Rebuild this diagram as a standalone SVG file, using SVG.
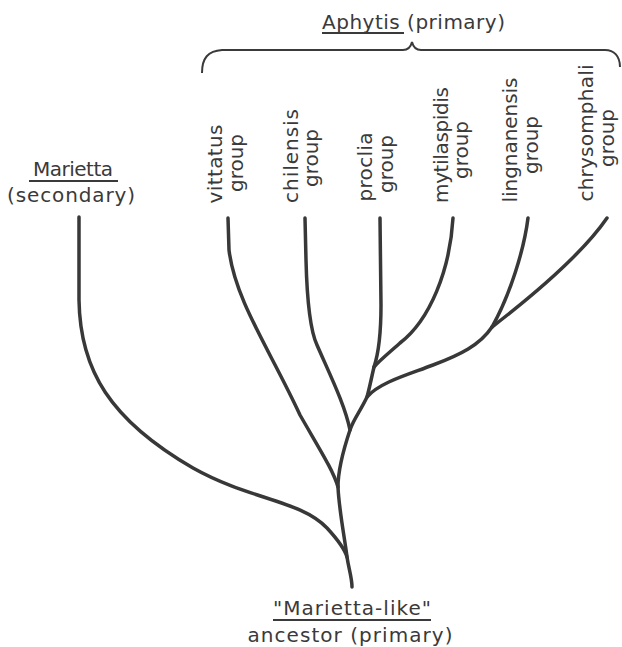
<svg xmlns="http://www.w3.org/2000/svg" width="622" height="647" viewBox="0 0 622 647">
<style>
text{font-family:"DejaVu Sans","Liberation Sans",sans-serif;font-size:20px;fill:#3a3a3a}
.r{text-anchor:middle}
.br{fill:none;stroke:#383838;stroke-width:3.5;stroke-linecap:round;stroke-linejoin:round}
.ul{stroke:#3a3a3a;stroke-width:2}
.brace{fill:none;stroke:#3a3a3a;stroke-width:2}
</style>
<rect width="622" height="647" fill="#fff"/>
<g id="aphytis">
<text x="322" y="29" textLength="183">Aphytis (primary)</text>
<line class="ul" x1="322" y1="33" x2="404" y2="33"/>
<path class="brace" d="M202,73 C202,58 208,51 222,50 L403,50 C408,50 411,46 412,42 C413,46 416,50 421,50 L605,50 C614,50 620,56 620,67"/>
</g>
<g id="marietta">
<text class="r" x="73" y="176" textLength="80">Marietta</text>
<line class="ul" x1="29" y1="181" x2="118" y2="181"/>
<text class="r" x="71" y="202" textLength="128">(secondary)</text>
</g>
<g id="vittatus">
<text class="r" transform="translate(222,164) rotate(-90)" textLength="79">vittatus</text>
<text class="r" transform="translate(243,163) rotate(-90)" textLength="58">group</text>
</g>
<g id="chilensis">
<text class="r" transform="translate(298,156) rotate(-90)" textLength="94">chilensis</text>
<text class="r" transform="translate(318,158) rotate(-90)" textLength="58">group</text>
</g>
<g id="proclia">
<text class="r" transform="translate(372,167) rotate(-90)" textLength="69">proclia</text>
<text class="r" transform="translate(393,164) rotate(-90)" textLength="58">group</text>
</g>
<g id="mytilaspidis">
<text class="r" transform="translate(448,145) rotate(-90)" textLength="116">mytilaspidis</text>
<text class="r" transform="translate(468,150) rotate(-90)" textLength="58">group</text>
</g>
<g id="lingnanensis">
<text class="r" transform="translate(517,140) rotate(-90)" textLength="125">lingnanensis</text>
<text class="r" transform="translate(538,145) rotate(-90)" textLength="58">group</text>
</g>
<g id="chrysomphali">
<text class="r" transform="translate(593,133) rotate(-90)" textLength="137">chrysomphali</text>
<text class="r" transform="translate(614,138) rotate(-90)" textLength="58">group</text>
</g>
<g id="ancestor">
<text class="r" x="352" y="615" textLength="158">"Marietta-like"</text>
<line class="ul" x1="273" y1="620" x2="431" y2="620"/>
<text class="r" x="350" y="642" textLength="205">ancestor (primary)</text>
</g>
<g id="connectors">
<path class="br" d="M380,218 L381,305 C381,335 378,355 374,367 C371,380 369,390 367,397 C361,410 353,420 350,430 C344,448 338,470 338,487 C339,510 345,540 347,557 C349,570 352,578 352,587"/>
<path class="br" d="M79,217 L79,300 C80,370 110,420 193,468 C250,500 300,500 327,528 C338,540 345,550 347,557"/>
<path class="br" d="M228,218 L229,250 C235,300 270,350 300,415 C320,450 333,470 338,487"/>
<path class="br" d="M305,218 L306,260 C307,300 310,330 317,345 C330,375 345,405 350,430"/>
<path class="br" d="M453,218 C450,270 430,320 400,343 C390,352 380,360 374,367"/>
<path class="br" d="M528,218 C524,250 510,295 492,327"/>
<path class="br" d="M607,218 C585,250 540,290 492,327"/>
<path class="br" d="M492,327 C480,345 460,355 433,365 C410,374 380,382 367,397"/>
</g>
</svg>
